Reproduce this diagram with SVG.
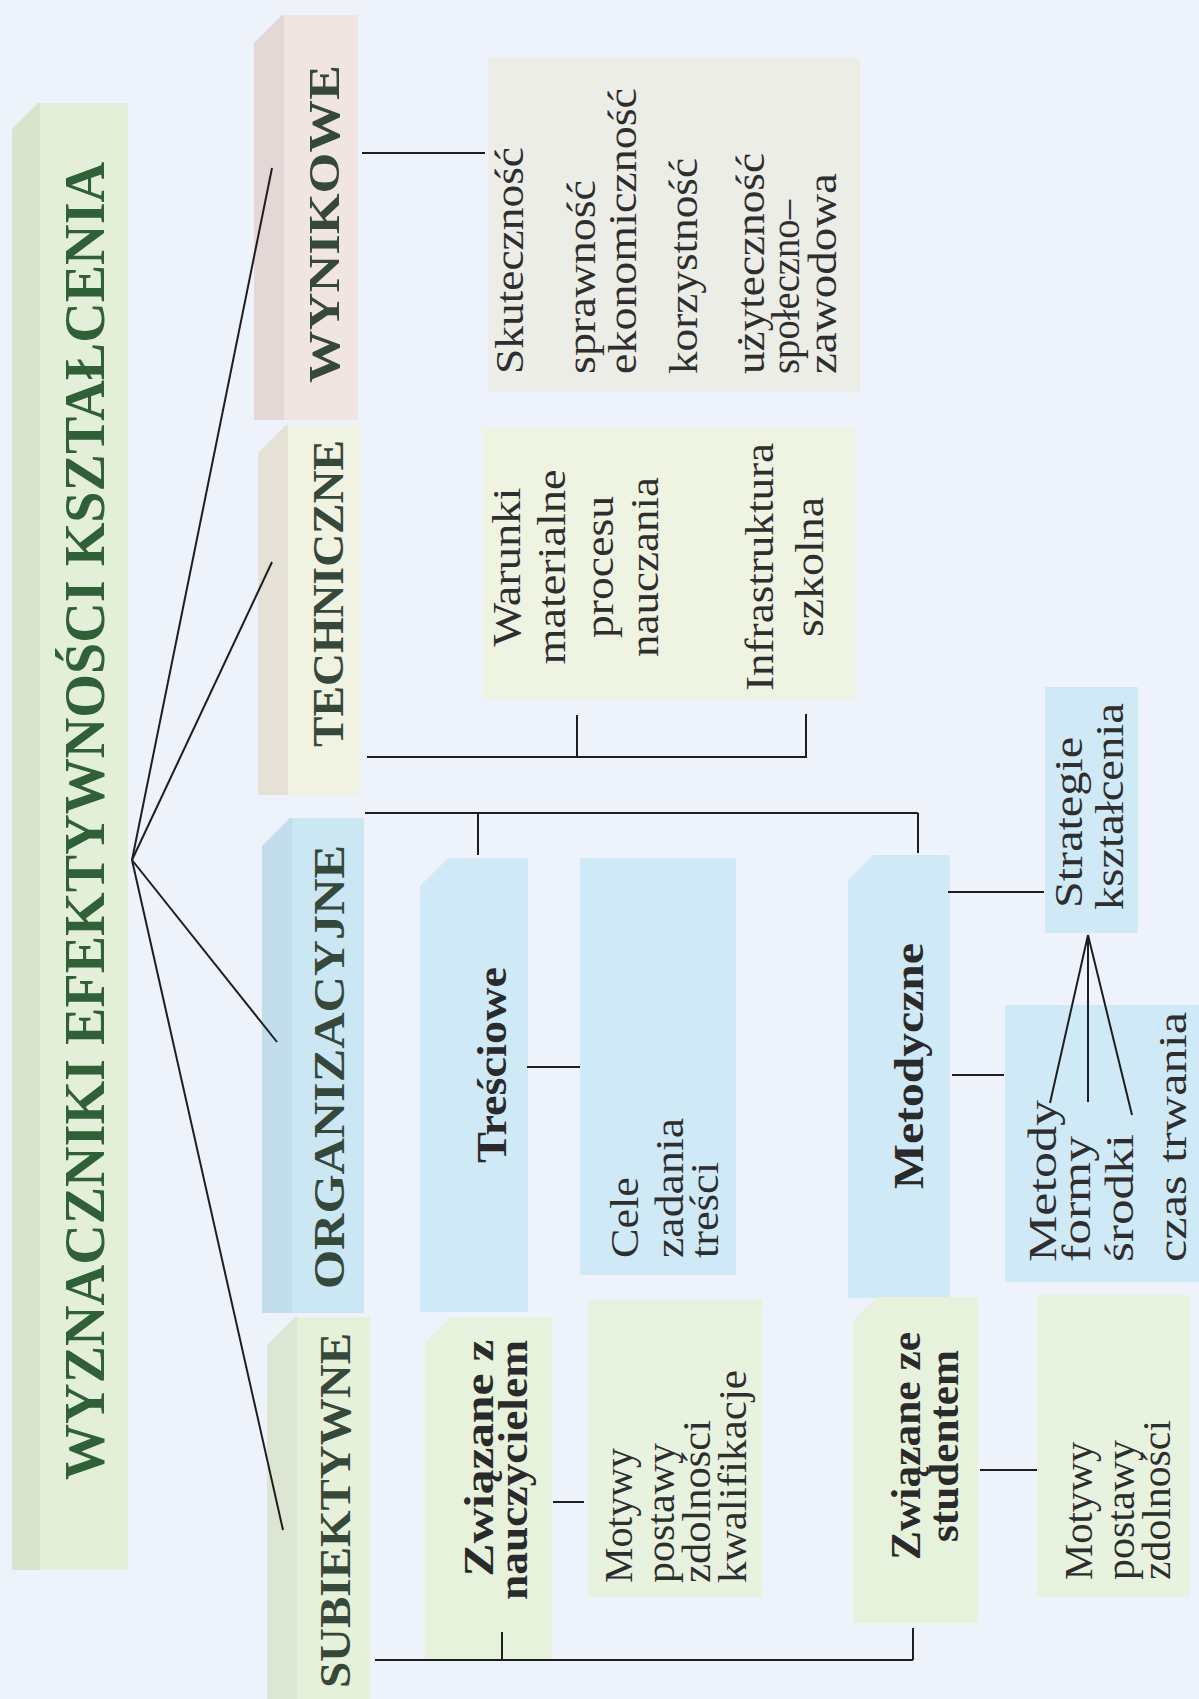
<svg xmlns="http://www.w3.org/2000/svg" width="1199" height="1699" viewBox="0 0 1199 1699">
<style>
text{font-family:"Liberation Serif","Times New Roman",serif;}
.t{font-size:40px;fill:#2e2e2e;}
.b{font-size:42px;font-weight:bold;fill:#2a2a2a;}
.cat{font-size:44px;font-weight:bold;fill:#36483a;}
.title{font-size:58px;font-weight:bold;fill:#2f6038;}
.ln{stroke:#1e1e1e;stroke-width:2;fill:none;}
.blue{fill:#cfe9f6;}
.green{fill:#e7f2dc;}
</style>
<rect width="1199" height="1699" fill="#eef3fb"/>

<g id="title">
<path d="M12,129 L38,103 L128,103 L128,1570 L12,1570 Z" fill="#e3efd8"/>
<path d="M12,129 L38,103 L40,103 L40,1570 L12,1570 Z" fill="#d8e4cc"/>
<text class="title" transform="translate(104,1480) rotate(-90)" textLength="1318" lengthAdjust="spacingAndGlyphs">WYZNACZNIKI EFEKTYWNOŚCI KSZTAŁCENIA</text>
</g>

<g id="wynikowe">
<path d="M254,43 L282,15 L358,15 L358,420 L254,420 Z" fill="#f1e5e4"/>
<path d="M254,43 L282,15 L284,15 L284,420 L254,420 Z" fill="#e4d8d6"/>
<text class="cat" transform="translate(339,383) rotate(-90)" textLength="318" lengthAdjust="spacingAndGlyphs">WYNIKOWE</text>
</g>

<g id="techniczne">
<path d="M258,453 L286,425 L360,425 L360,795 L258,795 Z" fill="#f0f3e2"/>
<path d="M258,453 L286,425 L288,425 L288,795 L258,795 Z" fill="#e6e1d6"/>
<text class="cat" transform="translate(343,747) rotate(-90)" textLength="307" lengthAdjust="spacingAndGlyphs">TECHNICZNE</text>
</g>

<g id="organizacyjne">
<path d="M262,846 L290,818 L364,818 L364,1313 L262,1313 Z" fill="#cbe7f4"/>
<path d="M262,846 L290,818 L292,818 L292,1313 L262,1313 Z" fill="#c2ddeb"/>
<text class="cat" transform="translate(344,1289) rotate(-90)" textLength="444" lengthAdjust="spacingAndGlyphs">ORGANIZACYJNE</text>
</g>

<g id="subiektywne">
<path d="M267,1345 L295,1317 L370,1317 L370,1699 L267,1699 Z" fill="#e6f1da"/>
<path d="M267,1345 L295,1317 L297,1317 L297,1699 L267,1699 Z" fill="#dce6d2"/>
<text class="cat" transform="translate(350,1688) rotate(-90)" textLength="355" lengthAdjust="spacingAndGlyphs">SUBIEKTYWNE</text>
</g>

<g id="wyniki">
<rect x="488" y="58" width="372" height="334" fill="#ebede6"/>
<text class="t" transform="translate(523,374) rotate(-90)" textLength="227" lengthAdjust="spacingAndGlyphs">Skuteczność</text>
<text class="t" transform="translate(595,374) rotate(-90)" textLength="194" lengthAdjust="spacingAndGlyphs">sprawność</text>
<text class="t" transform="translate(636,374) rotate(-90)" textLength="286" lengthAdjust="spacingAndGlyphs">ekonomiczność</text>
<text class="t" transform="translate(697,374) rotate(-90)" textLength="216" lengthAdjust="spacingAndGlyphs">korzystność</text>
<text class="t" transform="translate(764,374) rotate(-90)" textLength="221" lengthAdjust="spacingAndGlyphs">użyteczność</text>
<text class="t" transform="translate(799,374) rotate(-90)" textLength="174" lengthAdjust="spacingAndGlyphs">społeczno–</text>
<text class="t" transform="translate(836,374) rotate(-90)" textLength="201" lengthAdjust="spacingAndGlyphs">zawodowa</text>
</g>

<g id="warunki">
<rect x="483" y="428" width="372" height="272" fill="#eef3e2"/>
<g text-anchor="middle">
<text class="t" transform="translate(520,567) rotate(-90)" textLength="159" lengthAdjust="spacingAndGlyphs">Warunki</text>
<text class="t" transform="translate(565,567) rotate(-90)" textLength="195" lengthAdjust="spacingAndGlyphs">materialne</text>
<text class="t" transform="translate(613,567) rotate(-90)" textLength="142" lengthAdjust="spacingAndGlyphs">procesu</text>
<text class="t" transform="translate(658,567) rotate(-90)" textLength="180" lengthAdjust="spacingAndGlyphs">nauczania</text>
<text class="t" transform="translate(773,567) rotate(-90)" textLength="248" lengthAdjust="spacingAndGlyphs">Infrastruktura</text>
<text class="t" transform="translate(823,567) rotate(-90)" textLength="140" lengthAdjust="spacingAndGlyphs">szkolna</text>
</g>
</g>

<g id="tresciowe">
<path d="M420,886 L448,858 L528,858 L528,1312 L420,1312 Z" class="blue"/>
<text class="b" text-anchor="middle" transform="translate(506,1065) rotate(-90)" textLength="196" lengthAdjust="spacingAndGlyphs">Treściowe</text>
</g>

<g id="cele">
<rect x="580" y="858" width="156" height="417" class="blue"/>
<text class="t" transform="translate(638,1258) rotate(-90)" textLength="81" lengthAdjust="spacingAndGlyphs">Cele</text>
<text class="t" transform="translate(683,1258) rotate(-90)" textLength="140" lengthAdjust="spacingAndGlyphs">zadania</text>
<text class="t" transform="translate(718,1258) rotate(-90)" textLength="96" lengthAdjust="spacingAndGlyphs">treści</text>
</g>

<g id="metodyczne">
<path d="M848,880 L873,855 L950,855 L950,1298 L848,1298 Z" class="blue"/>
<text class="b" text-anchor="middle" transform="translate(923,1066) rotate(-90)" textLength="246" lengthAdjust="spacingAndGlyphs">Metodyczne</text>
</g>

<g id="strategie">
<rect x="1045" y="687" width="93" height="246" class="blue"/>
<text class="t" transform="translate(1082,908) rotate(-90)" textLength="171" lengthAdjust="spacingAndGlyphs">Strategie</text>
<text class="t" transform="translate(1123,910) rotate(-90)" textLength="207" lengthAdjust="spacingAndGlyphs">kształcenia</text>
</g>

<g id="metody">
<rect x="1005" y="1005" width="194" height="277" class="blue"/>
<text class="t" transform="translate(1056,1262) rotate(-90)" textLength="162" lengthAdjust="spacingAndGlyphs">Metody</text>
<text class="t" transform="translate(1090,1262) rotate(-90)" textLength="126" lengthAdjust="spacingAndGlyphs">formy</text>
<text class="t" transform="translate(1133,1262) rotate(-90)" textLength="128" lengthAdjust="spacingAndGlyphs">środki</text>
<text class="t" transform="translate(1186,1262) rotate(-90)" textLength="250" lengthAdjust="spacingAndGlyphs">czas trwania</text>
</g>

<g id="nauczyciel">
<path d="M425,1343 L451,1317 L552,1317 L552,1660 L425,1660 Z" class="green"/>
<text class="b" text-anchor="middle" transform="translate(493,1458) rotate(-90)" textLength="237" lengthAdjust="spacingAndGlyphs">Związane z</text>
<text class="b" text-anchor="middle" transform="translate(527,1470) rotate(-90)" textLength="260" lengthAdjust="spacingAndGlyphs">nauczycielem</text>
</g>

<g id="motywy-n">
<rect x="588" y="1300" width="174" height="297" fill="#e8f3df"/>
<text class="t" transform="translate(632,1583) rotate(-90)" textLength="135" lengthAdjust="spacingAndGlyphs">Motywy</text>
<text class="t" transform="translate(674,1583) rotate(-90)" textLength="140" lengthAdjust="spacingAndGlyphs">postawy</text>
<text class="t" transform="translate(710,1583) rotate(-90)" textLength="163" lengthAdjust="spacingAndGlyphs">zdolności</text>
<text class="t" transform="translate(746,1583) rotate(-90)" textLength="213" lengthAdjust="spacingAndGlyphs">kwalifikacje</text>
</g>

<g id="student">
<path d="M853,1321 L877,1297 L978,1297 L978,1623 L853,1623 Z" class="green"/>
<text class="b" text-anchor="middle" transform="translate(920,1446) rotate(-90)" textLength="228" lengthAdjust="spacingAndGlyphs">Związane ze</text>
<text class="b" text-anchor="middle" transform="translate(958,1446) rotate(-90)" textLength="192" lengthAdjust="spacingAndGlyphs">studentem</text>
</g>

<g id="motywy-s">
<rect x="1037" y="1295" width="153" height="302" fill="#e8f3df"/>
<text class="t" transform="translate(1092,1580) rotate(-90)" textLength="138" lengthAdjust="spacingAndGlyphs">Motywy</text>
<text class="t" transform="translate(1134,1580) rotate(-90)" textLength="140" lengthAdjust="spacingAndGlyphs">postawy</text>
<text class="t" transform="translate(1170,1580) rotate(-90)" textLength="160" lengthAdjust="spacingAndGlyphs">zdolności</text>
</g>

<g id="connectors" class="ln">
<path d="M132,860 L272,168"/>
<path d="M132,860 L272,562"/>
<path d="M132,860 L277,1042"/>
<path d="M132,860 L283,1530"/>
<path d="M362,153 H485"/>
<path d="M367,757 H807 M577,757 V715 M806,757 V714"/>
<path d="M365,813 H918 M478,813 V855 M918,813 V853"/>
<path d="M527,1067 H580"/>
<path d="M948,892 H1044"/>
<path d="M952,1075 H1004"/>
<path d="M1088,935 L1050,1103 M1088,935 L1088,1102 M1088,935 L1132,1115"/>
<path d="M553,1502 H584"/>
<path d="M980,1470 H1037"/>
<path d="M375,1660 H913 M502,1632 V1660 M913,1628 V1660"/>
</g>
</svg>
